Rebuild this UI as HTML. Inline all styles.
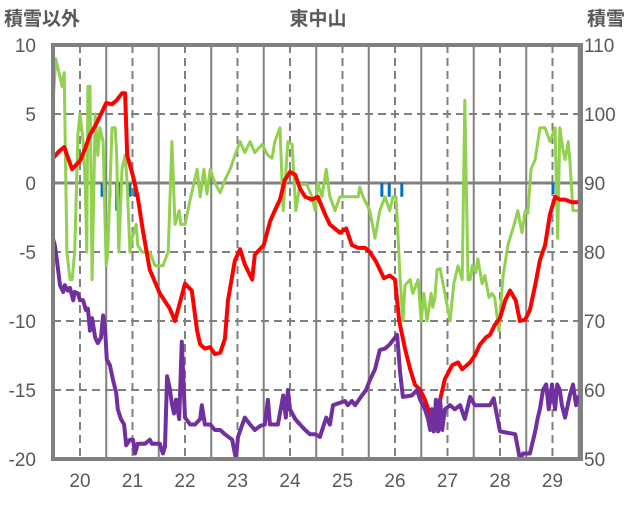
<!DOCTYPE html>
<html><head><meta charset="utf-8">
<style>
html,body{margin:0;padding:0;background:#fff;}
svg text{font-family:"Liberation Sans","Noto Sans CJK JP",sans-serif;fill:#595959;}
</style></head>
<body>
<svg id="chart" width="636" height="501" xmlns="http://www.w3.org/2000/svg">
<text x="4" y="25" font-size="19" font-weight="bold">積雪以外</text>
<text x="318" y="25" font-size="19" font-weight="bold" text-anchor="middle">東中山</text>
<text x="587" y="25" font-size="19" font-weight="bold">積雪</text>
<g id="grid"></g>
<g id="marks"></g>
<rect x="53" y="45" width="528" height="414" fill="none" stroke="#808080" stroke-width="4"/>
<g id="labels"></g>
</svg>
<script>
const xTicks = [20,21,22,23,24,25,26,27,28,29];
const yTicksLeft = [10,5,0,-5,-10,-15,-20];
const yTicksRight = [110,100,90,80,70,60,50];

const redT = [19.49,19.60,19.70,19.85,19.90,20.00,20.10,20.19,20.30,20.40,20.50,20.61,20.70,20.80,20.86,20.90,21.01,21.10,21.20,21.33,21.52,21.71,21.81,22.00,22.13,22.23,22.29,22.38,22.48,22.57,22.67,22.76,22.82,22.95,23.05,23.14,23.28,23.33,23.50,23.62,23.71,23.81,23.90,24.00,24.10,24.19,24.29,24.42,24.53,24.67,24.76,24.95,25.07,25.18,25.30,25.43,25.52,25.64,25.79,25.90,26.00,26.08,26.19,26.29,26.38,26.48,26.57,26.67,26.76,26.86,26.95,27.09,27.20,27.28,27.43,27.52,27.62,27.73,27.81,27.90,28.00,28.10,28.19,28.30,28.38,28.48,28.57,28.67,28.76,28.86,28.95,29.05,29.14,29.24,29.37,29.49];
const redV = [1.8,2.3,2.6,1.0,1.2,1.6,2.5,3.5,4.2,5.0,5.8,5.7,6.0,6.5,6.5,2.0,0.5,-1,-3.5,-6.3,-8,-9.1,-10,-7.3,-7.8,-10.7,-11.7,-12,-11.9,-12.4,-12.3,-11.3,-8.5,-5.6,-4.8,-5.9,-7,-5.2,-4.5,-2.8,-2,-1.2,0.2,0.8,0.6,-0.4,-1,-1.2,-1.0,-2.3,-3,-3.6,-3.3,-4.5,-4.7,-4.7,-5,-5.7,-6.9,-6.7,-7,-10,-12,-13.5,-14.6,-15,-15.7,-16.8,-16.4,-15.7,-14.2,-13.2,-13,-13.5,-13,-12.5,-11.7,-11.2,-11,-10.3,-9.8,-8.5,-7.8,-8.5,-10,-9.9,-9.2,-7.4,-5.6,-4.5,-2.3,-1,-1.2,-1.2,-1.4,-1.4];

const greenT = [19.49,19.54,19.60,19.66,19.70,19.71,19.75,19.81,19.85,19.90,19.96,20.00,20.06,20.10,20.13,20.15,20.19,20.23,20.29,20.34,20.38,20.44,20.50,20.53,20.61,20.67,20.70,20.74,20.80,20.86,20.90,20.95,20.99,21.07,21.10,21.18,21.33,21.43,21.58,21.68,21.75,21.81,21.89,21.92,22.00,22.10,22.23,22.29,22.36,22.42,22.48,22.57,22.67,22.76,22.86,22.95,23.05,23.14,23.24,23.33,23.47,23.58,23.66,23.71,23.81,23.87,23.96,24.04,24.11,24.19,24.32,24.42,24.48,24.53,24.61,24.69,24.76,24.86,24.95,25.05,25.30,25.33,25.39,25.52,25.62,25.71,25.81,25.90,25.96,26.02,26.10,26.15,26.19,26.29,26.34,26.44,26.50,26.55,26.61,26.69,26.72,26.76,26.80,26.86,26.95,27.05,27.12,27.20,27.28,27.33,27.39,27.43,27.47,27.54,27.58,27.66,27.71,27.79,27.85,27.90,27.98,28.06,28.15,28.19,28.27,28.34,28.42,28.48,28.53,28.59,28.67,28.76,28.86,28.95,29.05,29.10,29.14,29.20,29.24,29.30,29.33,29.39,29.49];
const greenV = [6,9,8,7,8,5,-5,-7,-7,-5,3.5,5,3,0,-5,7,7,-7,5,2,4,3,-6,-5,4,4,2,-5,1,2,0,-5,-4,-3,-4.5,-5,-5,-6,-6,-5,3,-3,-2,-3,-3,-1.2,1,-1,1,-0.8,1,0,-0.7,0.2,1,2,3,2.2,3,2.2,2.8,2,1.8,3,4,-2,3,2.8,-2,-0.1,-0.1,-1,-2,0,-1,1,-1,-2,-1,-1,-1,-0.3,-1,-2,-4,-2,-1,-2,-1,-1,-7,-10,-7.4,-7,-8,-7,-10,-8,-10,-8,-9,-8.3,-6.3,-6.2,-8,-10,-7.3,-6,-7,6,-7,-7,-6,-6.5,-5.5,-7.3,-6.7,-8.3,-8,-8.3,-10.7,-6.7,-4.5,-4,-3,-2,-3.6,-2,-2.2,1,1.7,4,4,3,4,-4,4,2.4,1.7,3,1.7,-2,-2];

const purpleT = [19.49,19.52,19.56,19.62,19.68,19.71,19.77,19.81,19.87,19.90,19.96,20.00,20.06,20.11,20.15,20.19,20.23,20.29,20.34,20.40,20.44,20.48,20.51,20.57,20.63,20.69,20.72,20.78,20.84,20.88,20.95,21.01,21.05,21.10,21.24,21.33,21.37,21.52,21.58,21.62,21.66,21.71,21.75,21.79,21.83,21.89,21.94,22.00,22.10,22.19,22.29,22.32,22.38,22.48,22.57,22.67,22.76,22.90,22.97,23.01,23.14,23.24,23.33,23.43,23.52,23.58,23.62,23.77,23.87,23.92,23.96,24.00,24.10,24.19,24.29,24.38,24.48,24.57,24.69,24.76,24.82,25.05,25.10,25.18,25.24,25.37,25.45,25.52,25.62,25.71,25.81,25.90,26.00,26.04,26.10,26.15,26.32,26.42,26.48,26.57,26.63,26.67,26.70,26.74,26.78,26.82,26.86,26.90,26.95,27.05,27.14,27.24,27.33,27.43,27.52,27.81,27.88,27.94,28.00,28.29,28.38,28.44,28.57,28.67,28.72,28.76,28.82,28.88,28.93,28.99,29.05,29.09,29.14,29.18,29.24,29.33,29.39,29.45,29.49];
const purpleV = [-4.1,-4.5,-5.6,-7.4,-7.9,-7.4,-7.8,-7.6,-8.5,-7.9,-8,-8.5,-8.5,-9.2,-9.1,-10.7,-9.8,-11.2,-11.6,-11.2,-9.6,-10.7,-12.8,-13.2,-14.3,-15.2,-16.4,-17.1,-17.5,-19,-18.6,-18.6,-19.6,-18.9,-18.9,-18.6,-18.9,-18.9,-19.6,-19.1,-14,-14.9,-16,-16.7,-15.7,-17.1,-11.5,-17,-17.5,-17.5,-17.1,-16.1,-17.5,-17.5,-17.9,-17.9,-18.2,-18.6,-20,-18.4,-17,-17.5,-17.9,-17.6,-17.5,-15.7,-17.5,-17.5,-15.4,-17,-15,-16.4,-17.1,-17.5,-17.9,-18.2,-18.2,-18.4,-17,-17.5,-16.1,-15.8,-16.1,-15.8,-16.1,-15.4,-15,-14.3,-13.5,-12.1,-12,-11.7,-11.2,-11,-13.8,-15.5,-15.4,-15,-15.7,-16.4,-17.1,-17.9,-16.4,-18,-15.7,-18,-15.7,-17.9,-16.4,-16.1,-16.4,-16.1,-17.1,-15.5,-16.1,-16.1,-15.6,-16.8,-18,-18.2,-20,-19.6,-19.6,-18,-17,-16.4,-15,-14.6,-16.4,-14.6,-16.4,-14.6,-15,-16.1,-17,-15.4,-14.6,-16.1,-15.4];

const barT = [20.42,20.57,20.70,20.74,20.95,21.05,25.75,25.89,26.13,29.01];
const barV = [-1,-1,-2,-3,-1,-1,-1,-1,-1,-0.8];

const X0=53, X1=581, Y0=45, Y1=459;
const T0=19.486, T1=29.543, V0=10, V1=-20;
function xs(t){return X0+(t-T0)/(T1-T0)*(X1-X0);}
function ys(v){return Y0+(V0-v)/(V0-V1)*(Y1-Y0);}
const NS='http://www.w3.org/2000/svg';
function mk(tag,attrs,parent){const e=document.createElementNS(NS,tag);for(const k in attrs)e.setAttribute(k,attrs[k]);parent.appendChild(e);return e;}
const grid=document.getElementById('grid'), marks=document.getElementById('marks'), labels=document.getElementById('labels');

yTicksLeft.forEach((v,i)=>{
  if(v===10||v===-20)return;
  const l=mk('line',{x1:X0,x2:X1,y1:ys(v),y2:ys(v),stroke:'#808080','stroke-width':v===0?3:2,'stroke-dasharray':v===0?'none':'8,5'},grid);
  
  
});
xTicks.forEach(t=>{
  const d=mk('line',{x1:xs(t),x2:xs(t),y1:Y0,y2:Y1,stroke:'#808080','stroke-width':2,'stroke-dasharray':'8,5'},grid);
  
  
  const s=mk('line',{x1:xs(t+0.5),x2:xs(t+0.5),y1:Y0,y2:Y1,stroke:'#808080','stroke-width':2},grid);
  
  
  const tx=mk('text',{x:xs(t),y:487,'font-size':19,'text-anchor':'middle'},labels);
  tx.textContent=t;
  
  
});
yTicksLeft.forEach((v,i)=>{
  const a=mk('text',{x:36,y:ys(v)+7,'font-size':19,'text-anchor':'end'},labels);
  a.textContent=v;
  
  
  const b=mk('text',{x:584,y:ys(v)+7,'font-size':19},labels);
  b.textContent=yTicksRight[i];
  
  
});
barT.forEach((t,i)=>{
  const y0=ys(0), y1=ys(barV[i]);
  const r=mk('rect',{x:xs(t)-1.5,y:Math.min(y0,y1),width:3,height:Math.abs(y1-y0),fill:'#0070c0'},marks);
  
  
});
function line(T,V,color,w,name){
  const n=Math.min(T.length,V.length);let d='';
  for(let i=0;i<n;i++)d+=(i?'L':'M')+xs(T[i]).toFixed(1)+','+ys(V[i]).toFixed(1);
  const p=mk('path',{d:d,fill:'none',stroke:color,'stroke-width':w,'stroke-linejoin':'round'},marks);
  
  
}
line(greenT,greenV,'#92d050',3,'green-series');
line(redT,redV,'#ff0000',4,'red-series');
line(purpleT,purpleV,'#7030a0',4,'purple-series');
</script>
</body></html>
